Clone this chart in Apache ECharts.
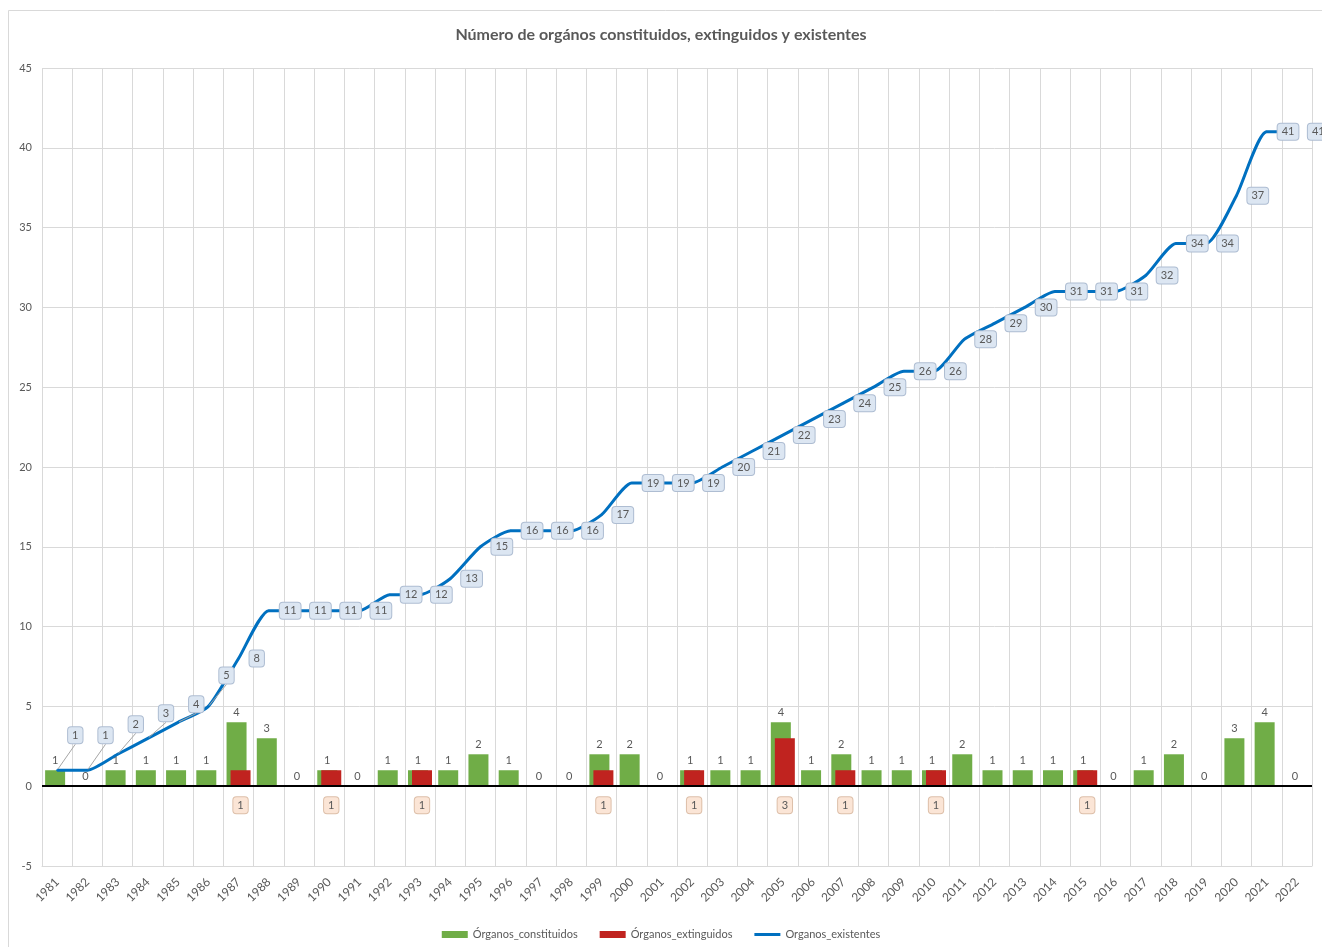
<!DOCTYPE html>
<html>
<head>
<meta charset="utf-8">
<script src="https://cdn.jsdelivr.net/npm/echarts@6/dist/echarts.min.js"></script>
<style>
  html, body { margin: 0; padding: 0; background: #fff; }
  #chart { width: 1322px; height: 947px; }
</style>
</head>
<body>
<div id="chart"></div>
<script>
const years = ['1981', '1982', '1983', '1984', '1985', '1986', '1987', '1988', '1989', '1990',
  '1991', '1992', '1993', '1994', '1995', '1996', '1997', '1998', '1999', '2000',
  '2001', '2002', '2003', '2004', '2005', '2006', '2007', '2008', '2009', '2010',
  '2011', '2012', '2013', '2014', '2015', '2016', '2017', '2018', '2019', '2020',
  '2021', '2022']

const constituidos = [1, 0, 1, 1, 1, 1, 4, 3, 0, 1,
  0, 1, 1, 1, 2, 1, 0, 0, 2, 2,
  0, 1, 1, 1, 4, 1, 2, 1, 1, 1,
  2, 1, 1, 1, 1, 0, 1, 2, 0, 3,
  4, 0]

const extinguidos = [0, 0, 0, 0, 0, 0, 1, 0, 0, 1,
  0, 0, 1, 0, 0, 0, 0, 0, 1, 0,
  0, 1, 0, 0, 3, 0, 1, 0, 0, 1,
  0, 0, 0, 0, 1, 0, 0, 0, 0, 0,
  0, 0]

const existentes = [1, 1, 2, 3, 4, 5, 8, 11, 11, 11,
  11, 12, 12, 13, 15, 16, 16, 16, 17, 19,
  19, 19, 20, 21, 22, 23, 24, 25, 26, 26,
  28, 29, 30, 31, 31, 31, 32, 34, 34, 37,
  41, 41]

// first few line labels are lifted in the original, with leader lines
const earlyLabelLift = [-35, -35, -30, -25, -18, -31]

const gray = '#595959'
const gridColor = '#D9D9D9'
const blue = '#0070C0'
const font = 'Lato, "Open Sans", sans-serif'

const chart = echarts.init(document.getElementById('chart'))

chart.setOption({
  backgroundColor: '#fff',
  textStyle: { fontFamily: font },
  animation: false,
  graphic: [{
    type: 'rect',
    shape: { x: 8.5, y: 10.5, width: 1400, height: 1000 },
    style: { fill: 'none', stroke: gridColor, lineWidth: 1 },
    silent: true
  }],
  title: {
    text: 'Número de orgános constituidos, extinguidos y existentes',
    left: 'center',
    top: 22,
    textStyle: { color: gray, fontSize: 16, fontWeight: 'bold', fontFamily: font }
  },
  legend: {
    bottom: 2,
    left: 'center',
    itemWidth: 26,
    itemHeight: 7,
    itemGap: 22,
    textStyle: { color: gray, fontSize: 11 },
    data: [
      { name: 'Órganos_constituidos', icon: 'rect' },
      { name: 'Órganos_extinguidos', icon: 'rect' },
      { name: 'Organos_existentes', icon: 'path://M0,0h26v3h-26z' }
    ]
  },
  grid: { left: 42, right: 10, top: 68, bottom: 81 },
  xAxis: {
    type: 'category',
    data: years,
    boundaryGap: true,
    axisTick: { show: false },
    axisLine: { onZero: false, lineStyle: { color: gridColor } },
    splitLine: { show: true, interval: 0, lineStyle: { color: gridColor } },
    axisLabel: { interval: 0, rotate: 45, color: gray, fontSize: 12, margin: 14 }
  },
  yAxis: {
    type: 'value',
    min: -5,
    max: 45,
    interval: 5,
    axisLine: { show: false },
    axisTick: { show: false },
    splitLine: { lineStyle: { color: gridColor } },
    axisLabel: { color: gray, fontSize: 11, margin: 10 }
  },
  series: [
    {
      name: 'Órganos_constituidos',
      type: 'bar',
      data: constituidos,
      barWidth: 20,
      barGap: '-80%',
      itemStyle: { color: '#70AD47' },
      label: { show: true, position: 'top', distance: 4, color: gray, fontSize: 11 },
      markLine: {
        silent: true,
        symbol: 'none',
        label: { show: false },
        lineStyle: { color: '#000', width: 2, type: 'solid' },
        data: [{ yAxis: 0 }]
      },
      z: 2
    },
    {
      name: 'Órganos_extinguidos',
      type: 'bar',
      data: extinguidos.map((v) => ({ value: v, label: { show: v > 0 } })),
      barWidth: 20,
      itemStyle: { color: '#C0231F' },
      label: {
        position: 'bottom',
        distance: 11,
        color: gray,
        fontSize: 11,
        backgroundColor: '#FBE5D6',
        borderColor: '#DDBFA9',
        borderWidth: 1,
        borderRadius: 3,
        padding: [3, 4, 2, 4]
      },
      z: 3
    },
    {
      name: 'Organos_existentes',
      type: 'line',
      data: existentes.map((v, i) =>
        i < earlyLabelLift.length ? { value: v, labelLine: { show: true } } : v),
      smooth: 0.2,
      symbol: 'circle',
      symbolSize: 2,
      lineStyle: { color: blue, width: 3 },
      itemStyle: { color: blue },
      label: {
        show: true,
        position: 'right',
        distance: 10,
        color: gray,
        fontSize: 11,
        backgroundColor: '#DCE6F2',
        borderColor: '#AEBDD2',
        borderWidth: 1,
        borderRadius: 3,
        padding: [3, 4, 2, 4]
      },
      labelLine: { show: false, lineStyle: { color: '#A6A6A6', width: 1 } },
      labelLayout: (params) => {
        const dy = earlyLabelLift[params.dataIndex]
        return dy ? { dy: dy } : {}
      },
      z: 5
    }
  ]
})
</script>
</body>
</html>
